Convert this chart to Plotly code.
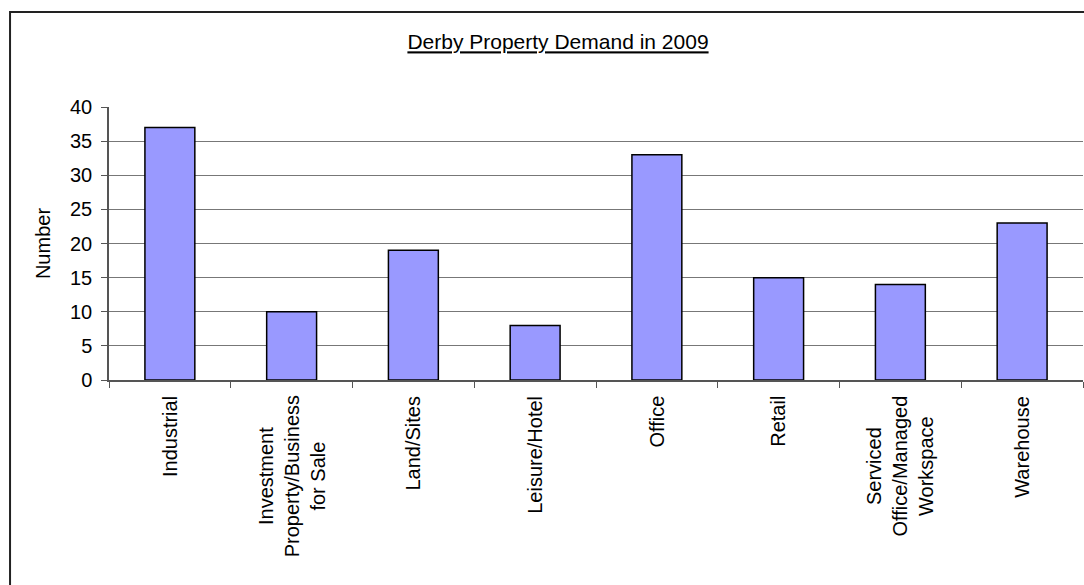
import plotly.graph_objects as go

categories = ["Industrial", "Investment Property/Business for Sale", "Land/Sites",
              "Leisure/Hotel", "Office", "Retail", "Serviced Office/Managed Workspace",
              "Warehouse"]
labels = ["Industrial", "Investment<br>Property/Business<br>for Sale", "Land/Sites",
          "Leisure/Hotel", "Office", "Retail", "Serviced<br>Office/Managed<br>Workspace",
          "Warehouse"]
values = [37, 10, 19, 8, 33, 15, 14, 23]
y_ticks = [0, 5, 10, 15, 20, 25, 30, 35, 40]

FONT = "Liberation Sans, Arial, sans-serif"

fig = go.Figure()
fig.add_trace(go.Bar(
    x=categories, y=values,
    marker=dict(color="#9999FF", line=dict(color="#000000", width=1.5)),
    hoverinfo="x+y",
))

# category labels as centered, rotated annotations
for c, lab in zip(categories, labels):
    fig.add_annotation(
        x=c, y=-0.05, xref="x", yref="paper",
        text=lab, textangle=-90, showarrow=False,
        xanchor="center", yanchor="top", align="center",
        font=dict(family=FONT, size=20, color="#000000"),
    )

# outer frame
fig.add_shape(type="rect", xref="paper", yref="paper",
              x0=-0.1016, x1=1.2, y0=-1.5, y1=1.348,
              line=dict(color="#222222", width=2), fillcolor="rgba(0,0,0,0)",
              layer="below")

fig.update_layout(
    width=1084, height=585,
    margin=dict(l=109, r=1, t=107, b=205),
    paper_bgcolor="white", plot_bgcolor="white",
    showlegend=False,
    bargap=0.59,
    title=dict(
        text="Derby Property Demand in 2009",
        x=(558 - 109) / 974, xref="paper", xanchor="center",
        y=1 - 42 / 585, yref="container", yanchor="middle",
        font=dict(family=FONT, size=21, color="#000000", lineposition="under"),
    ),
    font=dict(family=FONT, color="#000000"),
)

fig.update_xaxes(
    type="category", range=[-0.5, 7.5],
    showticklabels=False,
    ticks="outside", ticklen=6, tickcolor="#555555", tickwidth=1,
    tickson="boundaries",
    showline=True, linecolor="#555555", linewidth=1.5,
    showgrid=False, mirror=False,
)
fig.update_yaxes(
    range=[0, 40], tickvals=y_ticks,
    ticks="outside", ticklen=6, tickcolor="#555555", tickwidth=1,
    ticklabelstandoff=5,
    showline=True, linecolor="#555555", linewidth=1.5,
    showgrid=True, gridcolor="#777777", gridwidth=1,
    zeroline=False,
    tickfont=dict(family=FONT, size=20, color="#000000"),
    title=dict(text="Number", font=dict(family=FONT, size=20, color="#000000"),
               standoff=14),
)

fig.write_html("out.html")
